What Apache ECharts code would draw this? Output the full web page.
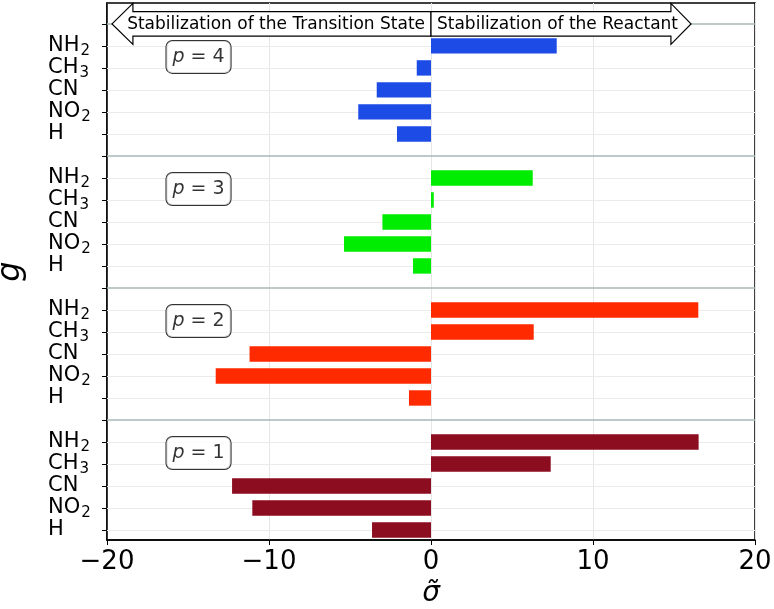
<!DOCTYPE html>
<html><head><meta charset="utf-8">
<script src="https://cdn.jsdelivr.net/npm/echarts@6/dist/echarts.min.js"></script>
<style>html,body{margin:0;padding:0;background:#fff}#c{width:774px;height:609px}</style>
</head><body><div id="c"></div>
<script>
// ---- data ----
const substituents = ['H', 'NO2', 'CN', 'CH3', 'NH2'];
const panelLabels = ['p = 1', 'p = 2', 'p = 3', 'p = 4'];
const sigmaP1 = [-3.64, -11.03, -12.28, 7.39, 16.52];
const sigmaP2 = [-1.36, -13.29, -11.2, 6.34, 16.5];
const sigmaP3 = [-1.11, -5.37, -3.0, 0.17, 6.28];
const sigmaP4 = [-2.1, -4.49, -3.35, -0.88, 7.76];
const xTicks = [-20, -10, 0, 10, 20];
const bannerLeftText = 'Stabilization of the Transition State';
const bannerRightText = 'Stabilization of the Reactant';
const xAxisName = 'σ\u0303';
const yAxisName = 'g';

// ---- styles ----
const panelColors = ['#8c0d20', '#ff2a00', '#00ec00', '#1c4be6'];
const FONT = 'DejaVu Sans';
const ROWS_PER_PANEL = 6;
const nRows = ROWS_PER_PANEL * 4;
const Y_MIN = -0.4545, Y_MAX = 23.95;
const allSeries = [sigmaP1, sigmaP2, sigmaP3, sigmaP4];

const chart = echarts.init(document.getElementById('c'), null, {renderer: 'canvas'});

function barRender(params, api) {
  const v = api.value(0), idx = api.value(1);
  const a = api.coord([0, idx]);
  const b = api.coord([v, idx]);
  const h = api.size([0, 0.7])[1];
  return {
    type: 'rect',
    shape: {x: Math.min(a[0], b[0]), y: a[1] - h / 2, width: Math.abs(b[0] - a[0]), height: h},
    style: {fill: api.visual('color')}
  };
}

const series = [];
const gridLines = [];
for (let i = 0; i < nRows; i++) {
  const sep = (i % ROWS_PER_PANEL) === ROWS_PER_PANEL - 1;
  gridLines.push({yAxis: i, lineStyle: sep ? {color: '#a7b9b9', width: 1.5, type: 'solid'} : {color: '#ebebeb', width: 1, type: 'solid'}});
}
allSeries.forEach((arr, p) => {
  const s = {
    type: 'custom',
    name: panelLabels[p],
    renderItem: barRender,
    itemStyle: {color: panelColors[p]},
    encode: {x: 0, y: 1},
    data: arr.map((v, k) => [v, p * ROWS_PER_PANEL + k]),
    z: 3
  };
  if (p === 0) {
    s.markLine = {silent: true, symbol: 'none', label: {show: false}, animation: false, data: gridLines, z: 1};
  }
  series.push(s);
});

// panel labels
series.push({
  type: 'scatter',
  symbolSize: 0,
  silent: true,
  z: 5,
  data: panelLabels.map((t, p) => ({value: [-14.35, p * ROWS_PER_PANEL + 3.5], text: t})),
  label: {
    show: true,
    position: 'inside',
    formatter: (pr) => '{i|' + pr.data.text.charAt(0) + '}{r|' + pr.data.text.slice(1) + '}',
    backgroundColor: '#fff',
    borderColor: '#000',
    borderWidth: 1,
    borderRadius: 6,
    padding: [6, 6, 5, 6],
    rich: {
      i: {fontFamily: FONT, fontStyle: 'italic', fontSize: 19, color: '#000', lineHeight: 21},
      r: {fontFamily: FONT, fontSize: 19, color: '#000', lineHeight: 21}
    }
  }
});

// banner arrows
const topRow = nRows - 1;
series.push({
  type: 'custom',
  silent: true,
  z: 10,
  data: [[0, topRow]],
  renderItem: function (params, api) {
    const c0 = api.coord([0, topRow]);
    const yc = c0[1];
    const lTip = api.coord([-19.69, topRow])[0];
    const lHead = api.coord([-18.4, topRow])[0];
    const rHead = api.coord([14.81, topRow])[0];
    const rTip = api.coord([16.05, topRow])[0];
    const x0 = c0[0];
    const bh = 12.3, hh = 20.5;
    const stroke = {fill: '#fff', stroke: '#000', lineWidth: 1.2};
    return {
      type: 'group',
      children: [
        {type: 'polygon', shape: {points: [[lTip, yc], [lHead, yc - hh], [lHead, yc - bh], [x0, yc - bh], [x0, yc + bh], [lHead, yc + bh], [lHead, yc + hh]]}, style: stroke},
        {type: 'polygon', shape: {points: [[rTip, yc], [rHead, yc - hh], [rHead, yc - bh], [x0, yc - bh], [x0, yc + bh], [rHead, yc + bh], [rHead, yc + hh]]}, style: stroke},
        {type: 'text', style: {x: x0 - 6, y: yc + 1, text: bannerLeftText, align: 'right', verticalAlign: 'middle', fontFamily: FONT, fontSize: 17, fill: '#000'}},
        {type: 'text', style: {x: x0 + 6, y: yc + 1, text: bannerRightText, align: 'left', verticalAlign: 'middle', fontFamily: FONT, fontSize: 17, fill: '#000'}}
      ]
    };
  }
});

// tick positions: one per row, plus hidden placeholders at the axis ends
const rowValues = [Y_MIN];
for (let i = 0; i < nRows; i++) rowValues.push(i);
rowValues.push(Y_MAX);

function yLabel(v) {
  if (Math.abs(v - Math.round(v)) > 1e-6) return '';
  const idx = Math.round(v);
  const k = idx % ROWS_PER_PANEL;
  if (k >= substituents.length) return '';
  const name = substituents[k];
  const m = name.match(/^([A-Za-z]+)(\d*)$/);
  let s = '{b|' + m[1] + '}';
  if (m[2]) s += '{s|' + m[2] + '}';
  return s;
}

chart.setOption({
  animation: false,
  backgroundColor: '#fff',
  grid: {left: 107, right: 19, top: 3, bottom: 69, show: true, borderColor: '#000', borderWidth: 1.5,
    backgroundColor: 'transparent', containLabel: false, outerBoundsMode: 'none'},
  xAxis: {
    type: 'value', min: -20, max: 20, interval: 10,
    axisLine: {show: true, onZero: false, lineStyle: {color: '#000', width: 1.5}},
    axisTick: {show: true, length: 5, lineStyle: {color: '#000', width: 1}},
    axisLabel: {fontFamily: FONT, fontSize: 26, color: '#000', margin: 9,
      formatter: v => (v < 0 ? '\u2212' + Math.abs(v) : String(v))},
    splitLine: {show: true, lineStyle: {color: '#e6e6e6', width: 1}},
    name: xAxisName, nameLocation: 'middle', nameGap: 38,
    nameTextStyle: {fontFamily: FONT, fontStyle: 'italic', fontSize: 28, color: '#000'}
  },
  yAxis: {
    type: 'value', min: Y_MIN, max: Y_MAX,
    axisLine: {show: true, onZero: false, lineStyle: {color: '#000', width: 1.5}},
    axisTick: {show: true, length: 5, customValues: rowValues, lineStyle: {color: '#000', width: 1}},
    axisLabel: {show: true, customValues: rowValues, align: 'left', margin: 59, formatter: yLabel,
      hideOverlap: false, showMinLabel: false, showMaxLabel: false,
      rich: {
        b: {fontFamily: FONT, fontSize: 21, color: '#000', lineHeight: 20},
        s: {fontFamily: FONT, fontSize: 15, color: '#000', lineHeight: 8, padding: [11, 0, 0, 1]}
      }},
    splitLine: {show: false},
    name: yAxisName, nameLocation: 'middle', nameGap: 80, nameRotate: 90,
    nameTextStyle: {fontFamily: FONT, fontStyle: 'italic', fontSize: 32, color: '#000'}
  },
  series: series
});
</script>
</body></html>
